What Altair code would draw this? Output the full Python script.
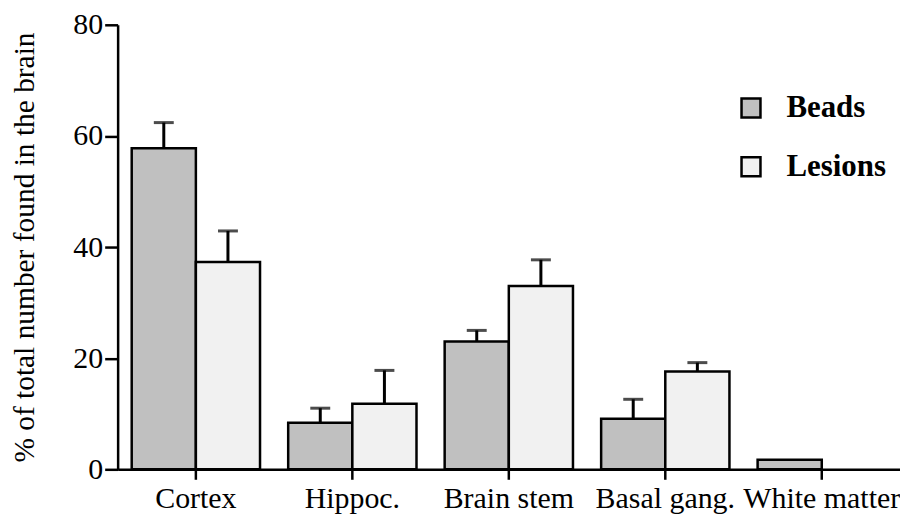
import altair as alt
import pandas as pd

categories = ["Cortex", "Hippoc.", "Brain stem", "Basal gang.", "White matter"]
groups = ["Beads", "Lesions"]
beads = [57.8, 8.4, 23.0, 9.1, 1.7]
beads_err = [4.6, 2.6, 2.0, 3.5, None]
lesions = [37.3, 11.8, 33.0, 17.6, None]
lesions_err = [5.6, 6.0, 4.7, 1.6, None]
y_ticks = [0, 20, 40, 60, 80]
fills = ["#c0c0c0", "#f1f1f1"]

rows = []
for i, c in enumerate(categories):
    for g, vals, errs in (("Beads", beads, beads_err), ("Lesions", lesions, lesions_err)):
        v = vals[i]
        if v is None:
            continue
        e = errs[i]
        rows.append({"region": c, "group": g, "value": v,
                     "top": (v + e) if e is not None else None})
df = pd.DataFrame(rows)

FONT = "Liberation Serif"
YTITLE = "% of total number found in the brain"

axis_style = dict(grid=False, labelFont=FONT, labelFontSize=30, labelColor="black",
                  titleFont=FONT, titleFontSize=29.5, titleFontWeight="normal",
                  titleColor="black", tickColor="black", tickWidth=2.5,
                  domainColor="black", domainWidth=2.5)

x_enc = alt.X("region:N", sort=categories,
              scale=alt.Scale(paddingInner=0.18, paddingOuter=0.09),
              axis=alt.Axis(title=None, labelAngle=0, tickSize=10, labelPadding=4,
                            **axis_style))
xo_enc = alt.XOffset("group:N", sort=groups,
                     scale=alt.Scale(paddingInner=0, paddingOuter=0))
y_axis = alt.Axis(title=YTITLE, values=y_ticks, titlePadding=33, tickSize=13,
                  labelPadding=2, **axis_style)
y_scale = alt.Scale(domain=[0, 80], nice=False)

base = alt.Chart(df)

bars = base.mark_bar(stroke="black", strokeWidth=2.5).encode(
    x=x_enc,
    xOffset=xo_enc,
    y=alt.Y("value:Q", scale=y_scale, axis=y_axis),
    fill=alt.Fill("group:N", sort=groups,
                  scale=alt.Scale(domain=groups, range=fills),
                  legend=alt.Legend(title=None, orient="none", legendX=620, legendY=68,
                                    direction="vertical", symbolType="square",
                                    symbolSize=361, symbolStrokeColor="black",
                                    symbolStrokeWidth=2.5, labelFont=FONT,
                                    labelFontSize=31, labelFontWeight="bold",
                                    labelColor="black", labelOffset=20,
                                    rowPadding=27, padding=0)),
)

err_base = base.transform_filter("isValid(datum.top)")
stems = err_base.mark_rule(color="black", strokeWidth=3).encode(
    x=x_enc,
    xOffset=xo_enc,
    y=alt.Y("value:Q", scale=y_scale, axis=y_axis),
    y2="top:Q",
)
caps = err_base.mark_tick(color="black", thickness=3, size=20).encode(
    x=x_enc,
    xOffset=xo_enc,
    y=alt.Y("top:Q", scale=y_scale, axis=y_axis),
)

chart = alt.layer(bars, stems, caps).properties(
    width=785, height=446,
    background="white",
    autosize=alt.AutoSizeParams(type="none"),
    padding={"left": 110, "top": 16, "right": 0, "bottom": 50},
).configure(font=FONT).configure_view(strokeWidth=0).configure_axis(**axis_style)

chart.save("out.html", embed_options={"renderer": "svg", "actions": False})
